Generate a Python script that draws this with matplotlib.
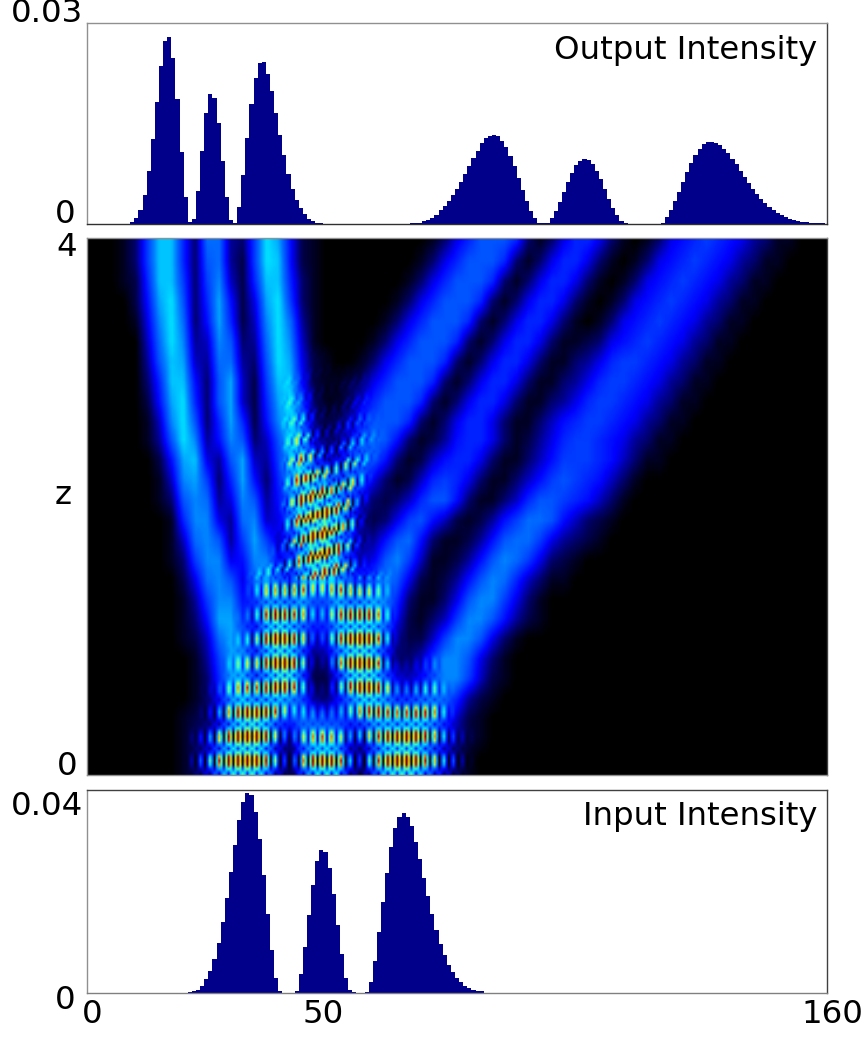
import numpy as np
import matplotlib
matplotlib.use("Agg")
import matplotlib.pyplot as plt
from matplotlib.colors import LinearSegmentedColormap
from matplotlib.transforms import ScaledTranslation

# Bar heights (in zoomed-pixel readings; scaled to intensity below)
out_a = [5,18,42,87,158,255,366,474,550,561,498,374,217,80,5,14,98,219,332,391,
         379,302,188,80,12,2,50,147,258,361,438,482,485,450,398,332,267,206,150,104,
         72,48,30,16,8,4,2]
out_tail = [1,2,3,4,8,12]
out_b = [17,27,42,54,68,87,104,126,150,175,198,220,242,257,264,267,264,249,231,205,
         174,138,101,68,40,17,4,2,4,17,39,66,96,126,152,176,190,194,191,180,
         159,134,104,74,49,27,10,2,0,0,0,0,0,0,0,0,
         4,20,41,68,97,126,156,183,206,226,239,246,246,243,236,225,212,196,179,159,
         141,123,105,90,75,62,50,41,33,26,20,15,11,8,6,5,4,3,3,2,1]
output_hits = [0]*11 + out_a + [0]*20 + out_tail + out_b
input_hits = [0]*25 + [4,6,10,21,41,65,101,149,211,284,361,442,516,571,599,591,541,461,353,236,128,45,6] \
           + [0,0,0] + [6,56,138,233,324,394,428,421,373,295,202,116,46,8,3] + [0,0] \
           + [4,34,97,181,271,360,437,492,525,539,525,498,452,400,344,289,235,189,148,114,
              84,64,46,33,21,15,10,7,5]
input_hits = input_hits + [0]*(181-len(input_hits))
output_scale = 0.03/603
input_scale = 0.04/607

# Heat map read by eye on a coarse grid: brightness (base 36, d/36); rows run from z=4 down to z=0.
# The fine fringes are approximated by repeating fringe_tile over this grid, not read cell by cell.
bright_z = [4.00,3.84,3.69,3.54,3.39,3.24,3.09,2.94,2.79,2.64,2.50,2.35,2.20,2.05,
            1.90,1.75,1.60,1.45,1.30,1.15,1.01,0.86,0.71,0.56,0.41,0.26,0.11,0.00]
brightness = [
"000139ee83 bb439fd721 0000000001 368aaa8313 6886310136 7898764311 00",
"000139ee83 ab429fe721 0000000013 68aaa83136 8863101367 8987643110 00",
"000128ee93 9c528ee831 0000000136 8aaa831368 8631013678 9876431100 00",
"000027dfa3 8d726df931 0000001368 aaa8313688 6310136789 8764311000 00",
"000016cfb3 7d825cfb41 000001368a aa83136886 3101367898 7643110000 00",
"000005bfc4 5ca34bfc51 00001368aa a831368863 1123678987 6431100000 00",
"000004aed5 4bb43afd62 1001368aaa 8313688631 1346899876 4311000000 00",
"0000038ee7 3ad529ee72 112368aaa8 3136886311 3468998764 3110000000 00",
"0000027df8 3ad528df93 11368aaa83 1368863113 4689987643 1100000000 00",
"0000015cfa 38d827cfb4 2358aaa831 3688631135 7899876431 1000000000 00",
"0000014afc 47ca35afd6 347aba7312 4788631246 8998764311 0000000000 00",
"00000027de 64ad549ef9 66aba73125 7886311357 9998753110 0000000000 00",
"00000015cd 938d738dgf caca631258 9863113579 a987531000 0000000000 00",
"00000013ac b46ca47cgg fda632358a a7311358aa 9875310000 0000000000 00",
"000000018c c64bc56bgh hfa42369a7 5212479bba 7532100000 0000000000 00",
"000000015b ca49d959eh he8447ab73 11247abb96 4321000000 0000000000 00",
"0000000139 cc67cc78dh he856ac951 1247acb963 2100000000 0000000000 00",
"0000000026 bca6bdb9df fea8aca621 247acb8531 1000000000 0000000000 00",
"0000000014 9cc79ddcea aecdec8311 36acc96310 0000000000 0000000000 00",
"0000000013 7dd98egec9 9efffc6213 59cca74210 0000000000 0000000000 00",
"0000000012 5bdb8ehfb6 7dghfa4225 9cca631000 0000000000 0000000000 00",
"0000000001 49dd9ehga3 4bghf83359 cca6310000 0000000000 0000000000 00",
"0000000001 38deadhha2 28fhgb657a cc95210000 0000000000 0000000000 00",
"0000000001 37dfdefda4 37cggd99bc b842100000 0000000000 0000000000 00",
"0000000012 36cghfb9ba 999beedefd 9521000000 0000000000 0000000000 00",
"0000000013 5afhhe74be fd66bfghfb 7421000000 0000000000 0000000000 00",
"0000000013 6cghhd62af ge63afhhea 6310000000 0000000000 0000000000 00",
"0000000013 6cghhd62af gf63afhhea 6310000000 0000000000 0000000000 00",
]
# Fringe contrast read by eye (0-9); also per-row lean, band tilt and band rate of the fringes
contrast_z = [4.00,3.69,3.39,3.09,2.79,2.50,2.20,1.90,1.60,1.30,1.01,0.71,0.41,0.11,0.00]
contrast = [
"0000000000 0000000000 0000000000 0000000000 0000000000 0000000000 00",
"0000000000 0000000000 0000000000 0000000000 0000000000 0000000000 00",
"0000000000 0000000000 0000000000 0000000000 0000000000 0000000000 00",
"0000000000 0000000001 2221000000 0000000000 0000000000 0000000000 00",
"0000000000 0000000123 3332000000 0000000000 0000000000 0000000000 00",
"0000000000 0000000256 6653100000 0000000000 0000000000 0000000000 00",
"0000000000 0000000489 9984000000 0000000000 0000000000 0000000000 00",
"0000000000 0000000699 9994000000 0000000000 0000000000 0000000000 00",
"0000000000 0000003799 9962000000 0000000000 0000000000 0000000000 00",
"0000000000 0000378863 3688620000 0000000000 0000000000 0000000000 00",
"0000000000 0002799983 3899961000 0000000000 0000000000 0000000000 00",
"0000000000 0025899972 1799962233 0000000000 0000000000 0000000000 00",
"0000000000 5899997223 3247889998 4000000000 0000000000 0000000000 00",
"0000000008 9999999799 9999999999 9950000000 0000000000 0000000000 00",
"0000000008 9999999799 9999999999 9950000000 0000000000 0000000000 00",
]
fringe_lean = [0.6,0.6,0.6,0.6,0.6,0.5,0.35,0.35,0.35,0.0,0.0,0.0,0.0,0.0,0.0]
fringe_tilt = [0.22,0.22,0.22,0.22,0.22,0.22,0.22,0.22,0.22,0.0,0.0,0.0,0.0,0.0,0.0]
fringe_rate = [1.2,1.2,1.2,1.2,1.2,1.2,1.2,1.2,1.2,1.05,1.0,1.0,1.0,1.0,1.0]
# One repeat of the fringe lattice (rows along z, columns along x)
fringe_tile = [
    [2.50,1.40,0.00,1.40],
    [2.10,1.25,0.10,1.25],
    [1.10,1.00,0.60,1.00],
    [0.50,0.85,1.00,0.85],
    [1.10,1.00,0.60,1.00],
    [2.10,1.25,0.10,1.25],
]
output_title = "Output Intensity"
input_title = "Input Intensity"

def parse(rows, base, div):
    return np.array([[int(c, base)/div for c in r.replace(" ", "")] for r in rows])

def resample(grid, zs, xs, zf, xf):
    tmp = np.array([np.interp(xf, xs, row) for row in grid])
    order = np.argsort(zs)
    return np.array([np.interp(zf, np.array(zs)[order], tmp[order, j]) for j in range(len(xf))]).T

E = parse(brightness, 36, 36)
C = parse(contrast, 10, 9)
ncols = E.shape[1]
x_cols = np.linspace(0, 160, 740//12 + 2)[:ncols]
nx, nz = 316, 132
xf = np.linspace(0, 160, nx)
zf = np.linspace(0, 4, nz)
Ef = resample(E, bright_z, x_cols, zf, xf)
Cf = resample(C, contrast_z, x_cols, zf, xf)
tile = np.roll(np.array(fringe_tile), 3, axis=0)

def nearest(values):
    idx = [int(np.argmin(np.abs(np.array(contrast_z) - z))) for z in zf]
    return np.array(values)[idx]
lean = nearest(fringe_lean)
tilt = nearest(fringe_tilt)
rate = nearest(fringe_rate)
row_phase = np.concatenate(([0], np.cumsum(rate)[:-1]))
lean_cum = np.concatenate(([0], np.cumsum(lean)[:-1]))
T = np.zeros((nz, nx))
cols = np.arange(nx)
for r in range(nz):
    ri = np.floor(row_phase[r] - tilt[r]*cols).astype(int) % 6
    ci = np.floor(cols - lean_cum[r]).astype(int) % 4
    T[r] = tile[ri, ci]
image = Ef*(1 - Cf) + Ef*Cf*T

cmap = LinearSegmentedColormap.from_list("blackjet", [
    (0.00, "#000000"), (0.08, "#00006a"), (0.18, "#0000ff"), (0.32, "#0078ff"),
    (0.42, "#00e8ff"), (0.50, "#50ffb0"), (0.60, "#e8f020"), (0.68, "#ffc000"),
    (0.80, "#f00000"), (1.00, "#700000")])

W, H = 865, 1037
fig = plt.figure(figsize=(W/100, H/100), dpi=100, facecolor="white")
def add_axes(top, bottom, left=87, right=827):
    return fig.add_axes([left/W, 1-bottom/H, (right-left)/W, (bottom-top)/H])
ax_out = add_axes(23, 224)
ax_map = add_axes(238, 775)
ax_in = add_axes(790, 993)

FS = 23.3
bin_w = 160/180
edges = (np.arange(182) - 0.5)*bin_w
navy = "#00008b"
ax_out.stairs(np.array(output_hits)*output_scale, edges, fill=True, color=navy, linewidth=0)
ax_in.stairs(np.array(input_hits)*input_scale, edges, fill=True, color=navy, linewidth=0)
ax_map.imshow(image, origin="lower", extent=[0,160,0,4], aspect="auto", cmap=cmap,
              vmin=0, vmax=1, interpolation="bilinear")

for ax in (ax_out, ax_map, ax_in):
    ax.set_xlim(0, 160)
    ax.tick_params(length=0, labelsize=FS)
ax_out.set_ylim(0, 0.03); ax_in.set_ylim(0, 0.04); ax_map.set_ylim(0, 4)
ax_out.set_xticks([]); ax_map.set_xticks([])
ax_in.set_xticks([0, 50, 160]); ax_in.set_xticklabels(["0", "50", "160"])
ax_out.set_yticks([0, 0.03]); ax_out.set_yticklabels(["0", "0.03"])
ax_map.set_yticks([0, 4]); ax_map.set_yticklabels(["0", "4"])
ax_in.set_yticks([0, 0.04]); ax_in.set_yticklabels(["0", "0.04"])

def nudge(label, dx, dy):
    label.set_transform(label.get_transform() + ScaledTranslation(dx/100, dy/100, fig.dpi_scale_trans))
for ax, moves in ((ax_out, [(-7,13),(1,13)]), (ax_map, [(-5,12),(-5,-6)]), (ax_in, [(-7,-4),(1,-13)])):
    for lab, (dx, dy) in zip(ax.get_yticklabels(), moves):
        nudge(lab, dx, dy)
for lab in ax_in.get_xticklabels():
    nudge(lab, 5, -1)
ax_map.set_ylabel("z", fontsize=FS, rotation=0, labelpad=0, va="center")
ax_map.yaxis.set_label_coords(-0.032, 0.52)

ax_out.text(0.987, 0.865, output_title, transform=ax_out.transAxes, ha="right", va="center", fontsize=FS)
ax_in.text(0.987, 0.87, input_title, transform=ax_in.transAxes, ha="right", va="center", fontsize=FS)

for ax in (ax_out, ax_map, ax_in):
    for s in ax.spines.values():
        s.set_linewidth(1)
    ax.spines["left"].set_color("#909090")
    ax.spines["top"].set_color("#909090")
    ax.spines["right"].set_color("#404040")
    ax.spines["bottom"].set_color("#303030")
ax_in.spines["top"].set_color("#404040")
ax_in.spines["bottom"].set_color("#808080")
ax_map.spines["bottom"].set_color("#909090")

fig.savefig("out.png", dpi=100)
